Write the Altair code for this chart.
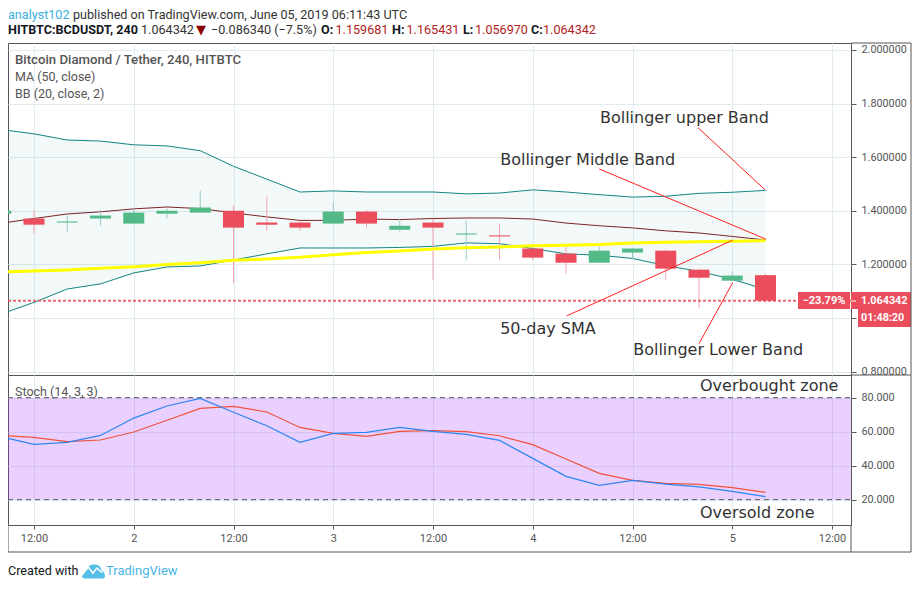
import altair as alt
import pandas as pd

# ---------- data ----------
candle = list(range(24))
opens = [1.389,1.371,1.356,1.371,1.352,1.389,1.393,1.400,1.356,1.356,1.352,1.397,1.329,1.356,1.311,1.308,1.259,1.240,1.206,1.244,1.251,1.180,1.139,1.159681]
closes = [1.400,1.348,1.360,1.382,1.393,1.400,1.412,1.337,1.348,1.337,1.397,1.352,1.344,1.337,1.315,1.304,1.225,1.206,1.251,1.259,1.184,1.150,1.158,1.064342]
highs = [1.405,1.404,1.385,1.404,1.408,1.408,1.475,1.419,1.453,1.362,1.434,1.404,1.371,1.371,1.363,1.352,1.270,1.270,1.266,1.259,1.255,1.184,1.173,1.165431]
lows = [1.385,1.315,1.319,1.344,1.348,1.371,1.393,1.132,1.326,1.326,1.352,1.337,1.322,1.143,1.214,1.218,1.214,1.165,1.206,1.218,1.143,1.038,1.139,1.056970]
bb_upper = [1.703,1.687,1.664,1.660,1.646,1.642,1.624,1.566,1.518,1.470,1.474,1.470,1.470,1.470,1.463,1.466,1.478,1.470,1.460,1.451,1.454,1.465,1.469,1.476]
bb_middle = [1.353,1.371,1.388,1.396,1.407,1.414,1.408,1.392,1.377,1.364,1.364,1.369,1.367,1.371,1.373,1.373,1.369,1.354,1.344,1.336,1.325,1.317,1.304,1.291]
bb_lower = [1.014,1.058,1.108,1.127,1.168,1.190,1.194,1.216,1.239,1.261,1.261,1.261,1.263,1.267,1.280,1.277,1.259,1.239,1.234,1.222,1.195,1.174,1.144,1.106]
ma50 = [1.171,1.175,1.179,1.185,1.191,1.199,1.206,1.215,1.220,1.226,1.236,1.244,1.250,1.257,1.262,1.265,1.269,1.271,1.274,1.280,1.282,1.284,1.286,1.288]
stoch_k = [57.0,52.5,53.7,57.8,68.0,75.1,79.6,71.4,63.5,53.7,59.0,59.6,62.5,60.2,58.4,54.9,44.3,33.7,28.4,31.4,29.2,27.5,24.9,21.8]
stoch_d = [57.8,56.7,54.1,55.1,59.8,66.7,73.7,74.9,71.6,62.5,59.0,57.3,60.2,60.6,60.0,57.6,52.4,43.9,35.5,31.4,29.6,29.0,27.1,24.3]
last_close = 1.064342

time_tick_pos = [1,4,7,10,13,16,19,22,25]
time_tick_labels = ["12:00","2","12:00","3","12:00","4","12:00","5","12:00"]
price_ticks = [0.8,1.0,1.2,1.4,1.6,1.8,2.0]
stoch_ticks = [20,40,60,80]

arrow_names = ["upper","middle","sma","lower"]
arrow_i = [20.97,18.00,17.02,21.0]
arrow_i2 = [22.98,23.01,22.01,22.01]
arrow_p = [1.710,1.556,1.0075,0.904]
arrow_p2 = [1.479,1.294,1.290,1.131]
note_text = ["Bollinger upper Band","Bollinger Middle Band","50-day SMA","Bollinger Lower Band"]
note_i = [18.02,15.02,15.02,19.02]
note_p = [1.747,1.591,0.960,0.882]
zone_text = ["Overbought zone","Oversold zone"]
zone_i = [21.03,21.03]
zone_v = [86.9,12.2]

# ---------- styles ----------
FRAME = "#555555"
GRID = "#e1ecf2"
UI = "Roboto"
HS = 12.6
W, H1, H2 = 843, 332, 150
FULL = 903

x_scale = alt.Scale(domain=[0.218,25.571], nice=False, zero=False, padding=0)
p_scale = alt.Scale(domain=[0.787,2.026], nice=False, zero=False)
s_scale = alt.Scale(domain=[5.1,93.35], nice=False, zero=False)

labels_expr = "[" + ",".join(f"'{t}'" for t in time_tick_labels) + "][(datum.value-1)/3]"
x_axis_top = alt.Axis(values=time_tick_pos, labels=False, ticks=False, domain=False, title=None, grid=True, gridColor=GRID)
x_axis_bot = alt.Axis(values=time_tick_pos, labelExpr=labels_expr, domain=False, title=None, grid=True, gridColor=GRID,
                      tickColor=FRAME, tickSize=4, labelColor=FRAME, labelFont=UI, labelFontSize=11, labelPadding=3, labelFlush=False, labelOverlap=False)
p_axis = alt.Axis(orient="right", values=price_ticks, labelExpr="datum.value == 1 ? '' : format(datum.value, '.6f')", title=None, domain=False, grid=True, gridColor=GRID,
                  tickColor=FRAME, tickSize=5, labelColor=FRAME, labelFont=UI, labelFontSize=10.8, labelPadding=5, labelOverlap=False)
s_axis = alt.Axis(orient="right", values=stoch_ticks, format=".3f", title=None, domain=False, grid=True, gridColor=GRID,
                  tickColor=FRAME, tickSize=5, labelColor=FRAME, labelFont=UI, labelFontSize=10.8, labelPadding=5, labelOverlap=False)

def X(f, pane="top"):
    return alt.X(f"{f}:Q", scale=x_scale, axis=x_axis_top if pane == "top" else x_axis_bot)
def YP(f):
    return alt.Y(f"{f}:Q", scale=p_scale, axis=p_axis)
def YS(f):
    return alt.Y(f"{f}:Q", scale=s_scale, axis=s_axis)

def label(txt, x, y, color="#333333", size=HS, weight="normal", font=UI, align="left"):
    return alt.Chart(pd.DataFrame({"t":[txt]})).mark_text(
        align=align, baseline="middle", color=color, fontSize=size, fontWeight=weight, font=font
    ).encode(x=alt.value(x), y=alt.value(y), text="t:N")

def chrome_rule(x, x2, y, y2, color=FRAME, width=1):
    return alt.Chart(pd.DataFrame({"a":[0]})).mark_rule(color=color, strokeWidth=width).encode(
        x=alt.value(x), x2=alt.value(x2), y=alt.value(y), y2=alt.value(y2))

def box(x, x2, y, y2, color="#eb4d5c"):
    return alt.Chart(pd.DataFrame({"a":[0]})).mark_rect(color=color).encode(
        x=alt.value(x), x2=alt.value(x2), y=alt.value(y), y2=alt.value(y2))

# ---------- frames ----------
df = pd.DataFrame({"i":candle,"o":opens,"c":closes,"h":highs,"l":lows,"up":bb_upper,"mid":bb_middle,"lo":bb_lower,"ma":ma50,"k":stoch_k,"d":stoch_d})
ups = df[df.c >= df.o]
downs = df[df.c < df.o]
arrows = pd.DataFrame({"n":arrow_names,"i":arrow_i,"i2":arrow_i2,"p":arrow_p,"p2":arrow_p2})
notes = pd.DataFrame({"t":note_text,"i":note_i,"p":note_p})
zones = pd.DataFrame({"t":zone_text,"i":zone_i,"v":zone_v})

base = alt.Chart(df)

price_layers = [
    base.mark_area(color="#138484", opacity=0.05, clip=True).encode(x=X("i"), y=YP("up"), y2="lo:Q"),
    base.mark_line(color="#138484", strokeWidth=1, clip=True).encode(x=X("i"), y=YP("up")),
    base.mark_line(color="#138484", strokeWidth=1, clip=True).encode(x=X("i"), y=YP("lo")),
    base.mark_line(color="#7b2325", strokeWidth=1, clip=True).encode(x=X("i"), y=YP("mid")),
    alt.Chart(ups).mark_rule(color="#9ccbcb", strokeWidth=1, clip=True).encode(x=X("i"), y=YP("l"), y2="h:Q"),
    alt.Chart(downs).mark_rule(color="#f4a3ae", strokeWidth=1, clip=True).encode(x=X("i"), y=YP("l"), y2="h:Q"),
    alt.Chart(ups).mark_bar(size=21, orient="vertical", color="#53b987", clip=True).encode(x=X("i"), y=YP("o"), y2="c:Q"),
    alt.Chart(downs).mark_bar(size=21, orient="vertical", color="#eb4d5c", clip=True).encode(x=X("i"), y=YP("o"), y2="c:Q"),
    base.mark_line(color="#ffff00", strokeWidth=3, clip=True).encode(x=X("i"), y=YP("ma")),
    alt.Chart(pd.DataFrame({"p":[last_close]})).mark_rule(color="#eb4d5c", strokeWidth=2, strokeDash=[3,2], opacity=0.85).encode(
        y=YP("p"), x=alt.value(0), x2=alt.value(W)),
    alt.Chart(arrows).mark_rule(color="#ff2020", strokeWidth=1).encode(x=X("i"), y=YP("p"), x2="i2:Q", y2="p2:Q"),
    alt.Chart(notes).mark_text(align="left", baseline="middle", font="DejaVu Sans", fontSize=16, color="#333333").encode(
        x=X("i"), y=YP("p"), text="t:N"),
    # last-price tags
    box(790, 842, 249, 266),
    box(843, FULL, 249, 266),
    box(850, FULL, 266, 284),
    chrome_rule(843, 848, 258, 258, color="#ffffff"),
    label("\u221223.79%", 816, 258, color="#ffffff", size=11, weight="bold", align="center"),
    label("1.064342", 853, 258, color="#ffffff", size=10.8, weight="bold"),
    label("01:48:20", 853, 275, color="#ffffff", size=10.8, weight="bold"),
    # pane legend
    label("Bitcoin Diamond / Tether, 240, HITBTC", 7, 17, color="#555555", size=13.2, weight=500),
    label("MA (50, close)", 7, 34, color="#555555", size=12.5),
    label("BB (20, close, 2)", 7, 51, color="#555555", size=12.5),
    # header
    label("analyst102", 0, -28, color="#3bb0e0"),
    label("published on TradingView.com, June 05, 2019 06:11:43 UTC", 65, -28),
    label("HITBTC:BCDUSDT, 240", 0, -13, color="#131722", weight="bold"),
    label("1.064342", 133, -13),
    label("\u25bc", 188, -13, color="#8b0000", size=13, font="DejaVu Sans"),
    label("\u22120.086340 (\u22127.5%)", 203, -13),
    label("O:", 313, -13, color="#131722", weight="bold"),
    label("1.159681", 327.5, -13, color="#b22222"),
    label("H:", 384, -13, color="#131722", weight="bold"),
    label("1.165431", 398.5, -13, color="#b22222"),
    label("L:", 455, -13, color="#131722", weight="bold"),
    label("1.056970", 467, -13, color="#b22222"),
    label("C:", 523, -13, color="#131722", weight="bold"),
    label("1.064342", 535, -13, color="#b22222"),
    # strip borders
    chrome_rule(W, FULL, 0, 0),
    chrome_rule(FULL, FULL, 0, H1),
]
price = alt.layer(*price_layers).properties(width=W, height=H1)

band = pd.DataFrame({"lo":[20],"hi":[80]})
levels = pd.DataFrame({"v":[20,80]})
logo = "M-1,.45 C-1,.2 -.8,.1 -.7,.05 C-.6,-.4 -.2,-.6 .1,-.55 C.4,-.6 .7,-.3 .7,0 C.95,.05 1,.3 1,.45 C1,.6 .85,.65 .7,.65 L-.75,.65 C-.9,.65 -1,.55 -1,.45 Z"
zig = "M-1,.35 L-.45,-.35 L-.05,.2 L.3,-.25 L.75,.15"

stoch_layers = [
    alt.Chart(band).mark_rect(color="#9c27ff", opacity=0.22).encode(
        y=YS("lo"), y2="hi:Q", x=alt.value(0), x2=alt.value(W)),
    alt.Chart(levels).mark_rule(color=FRAME, strokeDash=[5,4], strokeWidth=1).encode(y=YS("v"), x=alt.value(0), x2=alt.value(W)),
    base.mark_line(color="#f0523a", strokeWidth=1.2, clip=True).encode(x=X("i","bot"), y=YS("d")),
    base.mark_line(color="#2e86f0", strokeWidth=1.2, clip=True).encode(x=X("i","bot"), y=YS("k")),
    alt.Chart(zones).mark_text(align="left", baseline="middle", font="DejaVu Sans", fontSize=16, color="#333333").encode(
        x=X("i","bot"), y=YS("v"), text="t:N"),
    label("Stoch (14, 3, 3)", 7, 17, color="#555555", size=12.5),
    chrome_rule(0, FULL, 177, 177),
    chrome_rule(0, 0, 150, 177),
    chrome_rule(W, W, 150, 177),
    chrome_rule(FULL, FULL, 0, 177),
    chrome_rule(W, FULL, 0, 0),
    # footer
    label("Created with", 0, 196, color="#131722", size=12.6),
    alt.Chart(pd.DataFrame({"a":[0]})).mark_point(shape=logo, size=529, filled=True, color="#56bfe8", opacity=1).encode(
        x=alt.value(85.5), y=alt.value(196)),
    alt.Chart(pd.DataFrame({"a":[0]})).mark_point(shape=zig, size=529, filled=False, color="#ffffff", strokeWidth=1.5, opacity=1).encode(
        x=alt.value(85.5), y=alt.value(196)),
    label("TradingView", 98, 196, color="#4ab5e6", size=13),
]
stoch = alt.layer(*stoch_layers).properties(width=W, height=H2)

chart = alt.vconcat(price, stoch, spacing=0, bounds="flush").properties(
    padding={"left":-2,"right":0,"top":0,"bottom":0}, background="#ffffff"
).configure_view(stroke=FRAME, strokeWidth=1).configure_axis(gridWidth=1)

chart.save("out.html", embed_options={"renderer": "svg", "actions": False})
